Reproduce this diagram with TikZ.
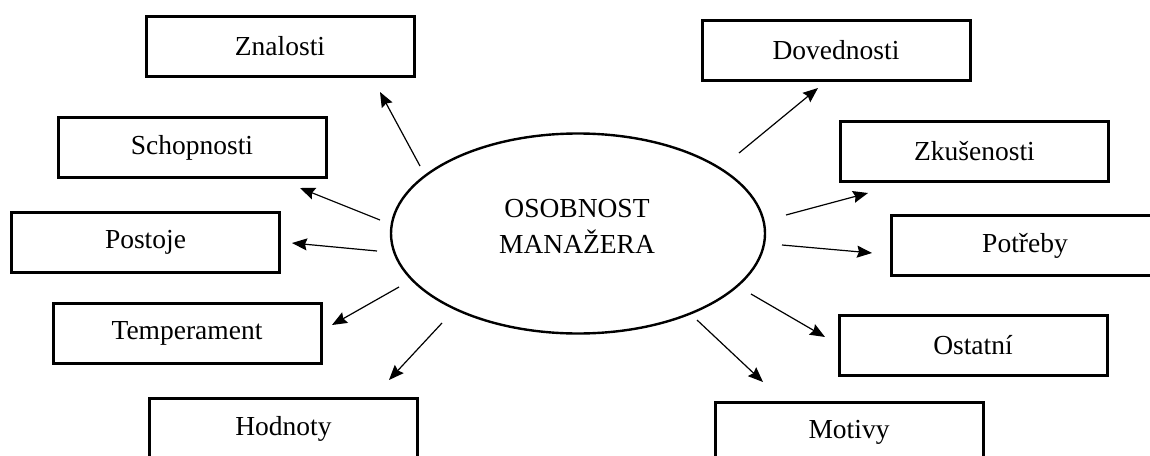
\documentclass[tikz,border=0pt]{standalone}
\usepackage{fontspec}
\setmainfont{Liberation Serif}
\usetikzlibrary{shapes.geometric,arrows.meta}
\begin{document}
\begin{tikzpicture}[x=0.5pt,y=-0.5pt,>={Stealth[length=7.5pt,width=6pt,inset=1pt]},
  box/.style={draw,line width=1.5pt,minimum width=134pt,minimum height=30pt,
    font=\fontsize{13.75}{18}\selectfont},
  sipka/.style={->,line width=0.6pt}]
   \useasboundingbox (0,0) rectangle (1150,455);

   % střed
   \node [ellipse,draw,line width=1.2pt,minimum width=187pt,minimum height=100pt] (osobnost) at (578,233.5) {};
   \node [align=center,font=\fontsize{13.75}{18}\selectfont] (nazev) at (577,226) {OSOBNOST\\MANAŽERA};

   % levá strana
   \node [box] (znalosti) at (280,46.5) {Znalosti};
   \node [box] (schopnosti) at (192,147.5) {Schopnosti};
   \node [box] (postoje) at (145.5,242.5) {Postoje};
   \node [box] (temperament) at (187,333.5) {Temperament};
   \node [box] (hodnoty) at (283.5,428.5) {Hodnoty};

   % pravá strana
   \node [box] (dovednosti) at (836,50.5) {Dovednosti};
   \node [box] (zkusenosti) at (974.5,151) {Zkušenosti};
   \node [box] (potreby) at (1025,245.5) {Potřeby};
   \node [box] (ostatni) at (973,345) {Ostatní};
   \node [box] (motivy) at (849,432) {Motivy};

   % šipky
   \coordinate (zn-a) at (420,166); \coordinate (zn-b) at (380,92);
   \coordinate (sc-a) at (380,220); \coordinate (sc-b) at (300,188);
   \coordinate (po-a) at (377,251); \coordinate (po-b) at (292,243);
   \coordinate (te-a) at (399,287); \coordinate (te-b) at (332,325);
   \coordinate (ho-a) at (442,323); \coordinate (ho-b) at (389,380);
   \coordinate (do-a) at (739,153); \coordinate (do-b) at (818,88);
   \coordinate (zk-a) at (786,215); \coordinate (zk-b) at (868,193);
   \coordinate (pt-a) at (782,245); \coordinate (pt-b) at (872,253);
   \coordinate (os-a) at (751,294); \coordinate (os-b) at (825,337);
   \coordinate (mo-a) at (697,320); \coordinate (mo-b) at (763,382);

   \draw [sipka] (zn-a) -- (zn-b);
   \draw [sipka] (sc-a) -- (sc-b);
   \draw [sipka] (po-a) -- (po-b);
   \draw [sipka] (te-a) -- (te-b);
   \draw [sipka] (ho-a) -- (ho-b);
   \draw [sipka] (do-a) -- (do-b);
   \draw [sipka] (zk-a) -- (zk-b);
   \draw [sipka] (pt-a) -- (pt-b);
   \draw [sipka] (os-a) -- (os-b);
   \draw [sipka] (mo-a) -- (mo-b);

\end{tikzpicture}
\end{document}
